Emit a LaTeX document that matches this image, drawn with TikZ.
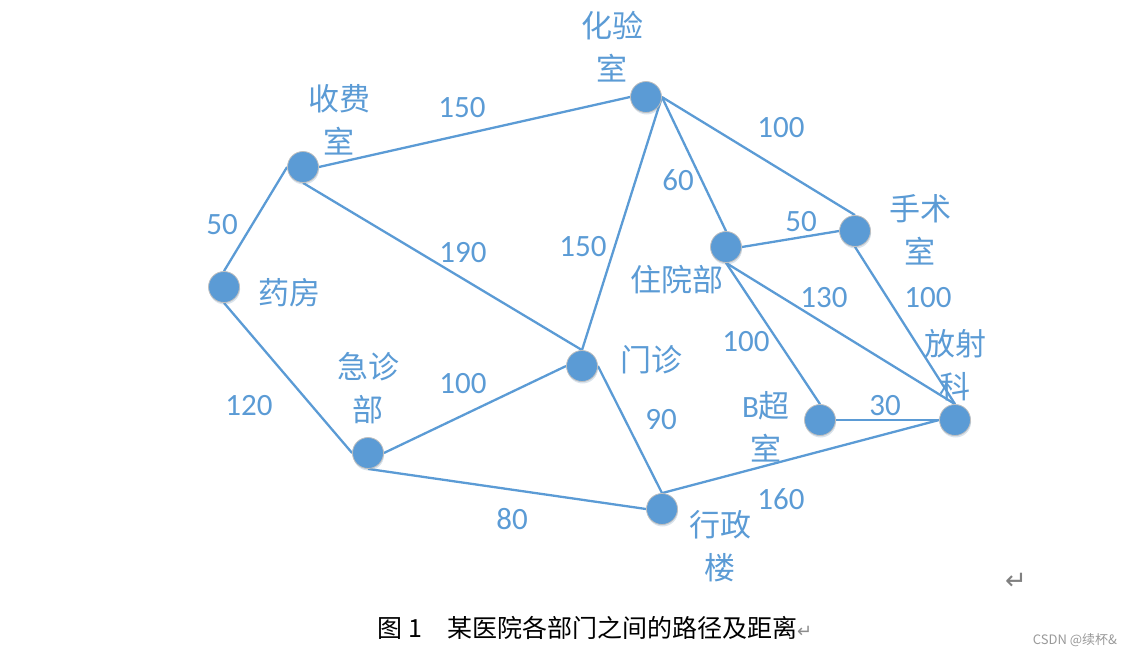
\documentclass[tikz,border=0pt]{standalone}
\usepackage{fontspec}
\usetikzlibrary{shadows,backgrounds}
\setmainfont{Carlito}
\newfontfamily\cjk{Noto Sans CJK SC}
\newfontfamily\dejavu{DejaVu Sans}
\IfFontExistsTF{FandolSong-Regular.otf}{\newfontfamily\song{FandolSong-Regular.otf}}{\newfontfamily\song{Noto Sans CJK SC}}
\definecolor{ob}{HTML}{5B9BD5}
\tikzset{
  vtx/.style={circle, fill=ob, draw=black!25, line width=0.8pt, minimum size=31pt, inner sep=0pt,
    drop shadow={shadow xshift=0.6pt, shadow yshift=-2pt, opacity=0.25, fill=ob!60!gray}},
  lbl/.style={text=ob, font=\cjk\fontsize{31}{43}\selectfont, align=center, inner sep=0pt},
  num/.style={text=ob, font=\fontsize{31}{37}\selectfont, inner sep=0pt},
  edge/.style={draw=ob, line width=2.3pt}
}
\begin{document}
\begin{tikzpicture}[x=1pt, y=-1pt]
\useasboundingbox (0,0) rectangle (1132,651);
% vertices
\node[vtx] (hy) at (646,97) {};
\node[vtx] (sf) at (303,167) {};
\node[vtx] (yf) at (224,287) {};
\node[vtx] (jz) at (368,453) {};
\node[vtx] (mz) at (582,366) {};
\node[vtx] (zy) at (726,247) {};
\node[vtx] (ss) at (855,231) {};
\node[vtx] (bc) at (820,420) {};
\node[vtx] (fs) at (955,420) {};
\node[vtx] (xz) at (662,509) {};
% edges
\begin{pgfonlayer}{background}
\draw[edge] (sf.east) -- (hy.west);
\draw[edge] (sf.west) -- (yf.north);
\draw[edge] (sf.south) -- (mz.north);
\draw[edge] (hy.east) -- (mz.north);
\draw[edge] (hy.east) -- (zy.north);
\draw[edge] (hy.east) -- (ss.north);
\draw[edge] (zy.east) -- (ss.west);
\draw[edge] (zy.south) -- (bc.north);
\draw[edge] (zy.south) -- (fs.north);
\draw[edge] (ss.south) -- (fs.north);
\draw[edge] (bc.east) -- (fs.west);
\draw[edge] (xz.north) -- (fs.west);
\draw[edge] (mz.east) -- (xz.north);
\draw[edge] (jz.east) -- (mz.west);
\draw[edge] (jz.south) -- (xz.west);
\draw[edge] (yf.south) -- (jz.west);
\end{pgfonlayer}
% vertex labels
\node[lbl] (hyL) at (612,47) {化验\\室};
\node[lbl] (sfL) at (339,120) {收费\\室};
\node[lbl] (yfL) at (289,293) {药房};
\node[lbl] (jzL) at (368,388) {急诊\\部};
\node[lbl] (mzL) at (651,360) {门诊};
\node[lbl] (zyL) at (677,280) {住院部};
\node[lbl] (ssL) at (920,230) {手术\\室};
\node[lbl] (fsL) at (955,365) {放射\\科};
\node[lbl] (bcL) at (766,427) {{\rmfamily B}超\\室};
\node[lbl] (xzL) at (720,546) {行政\\楼};
% weights
\node[num] (w1) at (462,108) {150};
\node[num] (w2) at (222,225) {50};
\node[num] (w3) at (463,253) {190};
\node[num] (w4) at (583,247) {150};
\node[num] (w5) at (678,180) {60};
\node[num] (w6) at (781,128) {100};
\node[num] (w7) at (801,222) {50};
\node[num] (w8) at (746,342) {100};
\node[num] (w9) at (824,298) {130};
\node[num] (w10) at (928,298) {100};
\node[num] (w11) at (885,406) {30};
\node[num] (w12) at (781,499) {160};
\node[num] (w13) at (661,420) {90};
\node[num] (w14) at (463,384) {100};
\node[num] (w15) at (512,519) {80};
\node[num] (w16) at (249,406) {120};
% caption and marks
\node[anchor=west, inner sep=0pt, font=\song\fontsize{25}{25}\selectfont] (cap) at (377,628)
  {图\hspace{6pt}1\hspace{25pt}某医院各部门之间的路径及距离{\dejavu\fontsize{18}{18}\selectfont\color{black!45}↵}};
\node[inner sep=0pt, font=\dejavu\fontsize{26}{26}\selectfont, text=black!50] (ret) at (1016,581) {↵};
\node[inner sep=0pt, font=\cjk\fontsize{13}{13}\selectfont, text=black!40] (wm) at (1075,640) {CSDN @续杯\&};
\end{tikzpicture}
\end{document}
